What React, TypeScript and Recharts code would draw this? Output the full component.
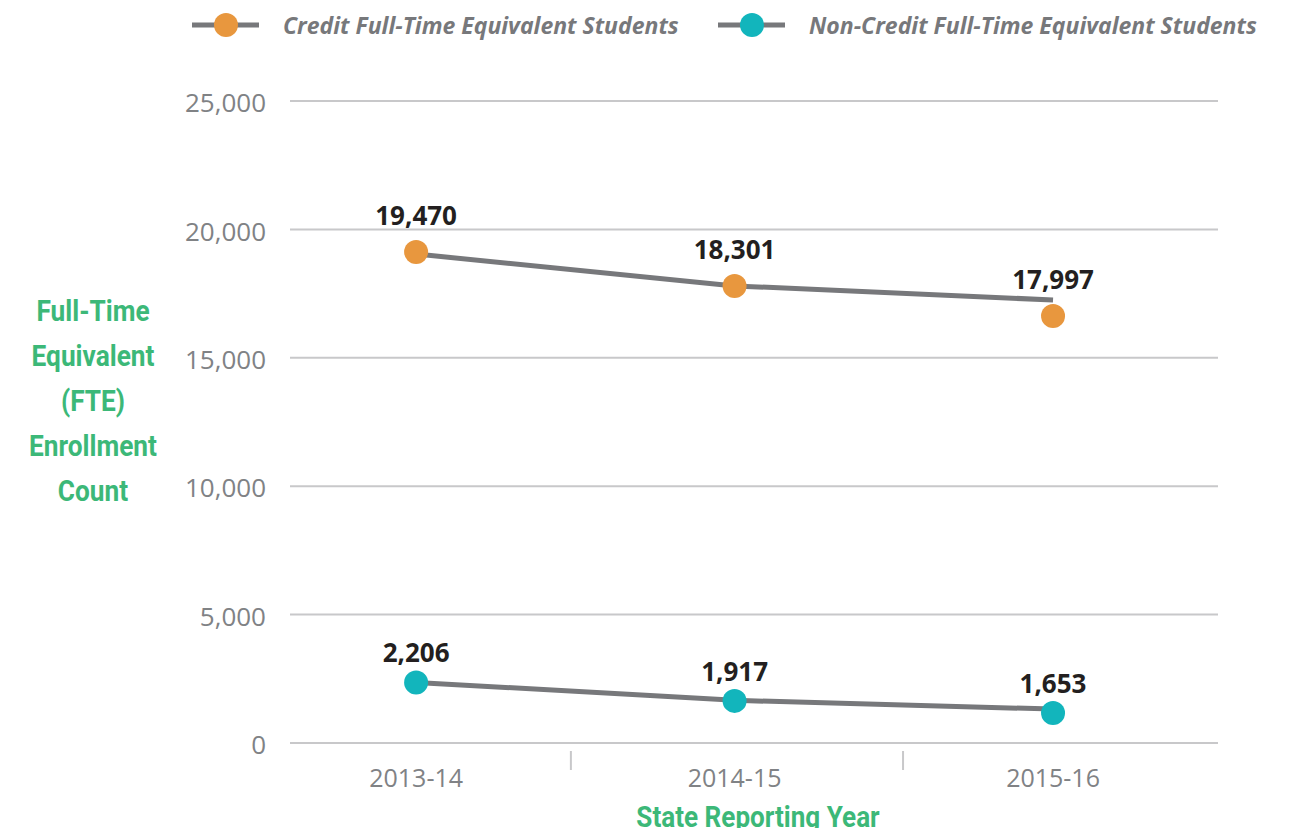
import { LineChart, Line, XAxis, YAxis, CartesianGrid, LabelList, Label } from "recharts";

// category positions on a numeric x axis (dividers sit between them)
const years = ["2013-14", "2014-15", "2015-16"];
const yearPos = [0, 1, 2];
const dividerPos = [0.486, 1.529];

// the connecting lines and the markers do not sit on the same values in the original
const creditLine = [19040, 17800, 17250];
const creditDot = [19120, 17800, 16630];
const creditLabel = [19470, 18301, 17997];

const nonCreditLine = [2360, 1660, 1320];
const nonCreditDot = [2360, 1640, 1170];
const nonCreditLabel = [2206, 1917, 1653];

const yTicks = [0, 5000, 10000, 15000, 20000, 25000];

const data = years.map((year, i) => ({
  year,
  x: yearPos[i],
  creditLine: creditLine[i],
  creditDot: creditDot[i],
  creditLabel: creditLabel[i].toLocaleString("en-US"),
  nonCreditLine: nonCreditLine[i],
  nonCreditDot: nonCreditDot[i],
  nonCreditLabel: nonCreditLabel[i].toLocaleString("en-US"),
}));

const GREEN = "#3cb878";
const LINE = "#77787b";
const ORANGE = "#e8973e";
const TEAL = "#12b5bc";
const GRID = "#c8c8ca";
const TICK = "#808285";
const TITLE_FONT = "Roboto, sans-serif";

const legendItems = [
  { name: "Credit Full-Time Equivalent Students", color: ORANGE, left: 192 },
  { name: "Non-Credit Full-Time Equivalent Students", color: TEAL, left: 718 },
];

function TopLegend() {
  return (
    <>
      {legendItems.map((it) => (
        <div key={it.name} style={{ position: "absolute", top: 9, left: it.left, display: "flex", alignItems: "center" }}>
          <svg width={67} height={28} style={{ marginRight: 24 }}>
            <line x1={0} y1={14} x2={67} y2={14} stroke={LINE} strokeWidth={5} />
            <circle cx={34} cy={14} r={12} fill={it.color} />
          </svg>
          <span style={{ fontFamily: "'Open Sans', sans-serif", fontStyle: "italic", fontWeight: 700, fontSize: 23, color: LINE, whiteSpace: "nowrap" }}>
            {it.name}
          </span>
        </div>
      ))}
    </>
  );
}

function XTick(props: any) {
  const { x, y, payload } = props;
  const idx = yearPos.indexOf(payload.value);
  if (idx < 0) {
    return <line x1={x} y1={y} x2={x} y2={y + 19} stroke={GRID} strokeWidth={2} />;
  }
  return (
    <text x={x} y={y + 36} textAnchor="middle" fill={TICK} fontFamily="'Open Sans', sans-serif" fontSize={25}>
      {years[idx]}
    </text>
  );
}

function YTitle() {
  const lines = ["Full-Time", "Equivalent", "(FTE)", "Enrollment", "Count"];
  return (
    <text transform="translate(93 0) scale(0.875 1)" textAnchor="middle" fill={GREEN} fontFamily={TITLE_FONT} fontWeight={700} fontSize={30}>
      {lines.map((l, i) => (
        <tspan key={l} x={0} y={321 + i * 45}>
          {l}
        </tspan>
      ))}
    </text>
  );
}

function XTitle() {
  return (
    <text transform="translate(758 0) scale(0.9 1)" textAnchor="middle" fill={GREEN} fontFamily={TITLE_FONT} fontWeight={700} fontSize={29}>
      <tspan x={0} y={827}>State Reporting Year</tspan>
    </text>
  );
}

export default function App() {
  return (
    <div style={{ margin: -8, width: 1290, height: 836, background: "#fff", position: "relative" }}>
      <TopLegend />
      <LineChart width={1290} height={836} data={data} margin={{ top: 101, right: 72, bottom: 0, left: 170 }}>
        <CartesianGrid horizontal vertical={false} stroke={GRID} strokeWidth={2} />
        <XAxis
          dataKey="x"
          type="number"
          domain={[-0.396, 2.518]}
          ticks={[yearPos[0], dividerPos[0], yearPos[1], dividerPos[1], yearPos[2]]}
          interval={0}
          axisLine={{ stroke: GRID, strokeWidth: 2 }}
          tickLine={false}
          tick={<XTick />}
          height={93}
        >
          <Label content={<XTitle />} />
        </XAxis>
        <YAxis
          type="number"
          domain={[0, 25000]}
          ticks={yTicks}
          width={120}
          axisLine={false}
          tickLine={false}
          tickSize={6}
          tickMargin={18}
          tickFormatter={(v: number) => v.toLocaleString("en-US")}
          tick={{ fill: TICK, fontFamily: "'Open Sans', sans-serif", fontSize: 26, dy: 2 }}
        >
          <Label content={<YTitle />} />
        </YAxis>
        <Line dataKey="creditLine" stroke={LINE} strokeWidth={5} dot={false} isAnimationActive={false} legendType="none" />
        <Line dataKey="nonCreditLine" stroke={LINE} strokeWidth={5} dot={false} isAnimationActive={false} legendType="none" />
        <Line
          dataKey="creditDot"
          stroke="none"
          dot={{ r: 12, fill: ORANGE, stroke: "none" }}
          activeDot={false}
          isAnimationActive={false}
          legendType="none"
        >
          <LabelList dataKey="creditLabel" position="top" offset={27} fill="#231f20" fontFamily="'Open Sans', sans-serif" fontWeight={700} fontSize={26} />
        </Line>
        <Line
          dataKey="nonCreditDot"
          stroke="none"
          dot={{ r: 12, fill: TEAL, stroke: "none" }}
          activeDot={false}
          isAnimationActive={false}
          legendType="none"
        >
          <LabelList dataKey="nonCreditLabel" position="top" offset={20} fill="#231f20" fontFamily="'Open Sans', sans-serif" fontWeight={700} fontSize={26} />
        </Line>
      </LineChart>
    </div>
  );
}
